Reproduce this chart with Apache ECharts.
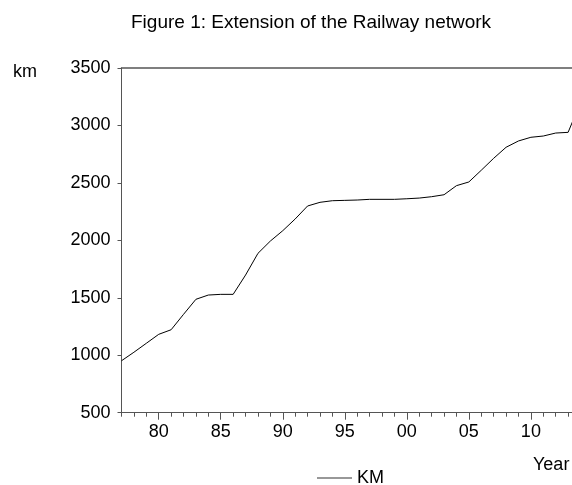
<!DOCTYPE html>
<html><head><meta charset="utf-8">
<script src="https://cdn.jsdelivr.net/npm/echarts@6/dist/echarts.min.js"></script>
<style>html,body{margin:0;padding:0;background:#fff;overflow:hidden}#c{width:581px;height:485px}</style>
</head><body><div id="c"></div>
<script>
const years = [1977,1978,1979,1980,1981,1982,1983,1984,1985,1986,1987,1988,1989,1990,1991,1992,1993,1994,1995,1996,1997,1998,1999,2000,2001,2002,2003,2004,2005,2006,2007,2008,2009,2010,2011,2012,2013,2014];
const km = [952,1026,1104,1182,1222,1356,1487,1524,1530,1530,1698,1887,1994,2084,2186,2299,2331,2345,2348,2351,2357,2357,2357,2362,2368,2380,2397,2476,2508,2610,2714,2810,2865,2897,2908,2934,2940,3200];
const yTicks = [500,1000,1500,2000,2500,3000,3500];
const titleText = 'Figure 1: Extension of the Railway network';
const seriesName = 'KM';

const FONT = 'Liberation Sans, Arial, sans-serif';
const AX = '#555';
const chart = echarts.init(document.getElementById('c'), null, {renderer:'canvas'});
const isMajor = (i, v) => Number(v) % 5 === 0;
chart.setOption({
  animation: false,
  backgroundColor: '#fff',
  title: {text: titleText, left: 131, top: 13, padding: 0,
    textStyle: {fontFamily: FONT, fontSize: 19, fontWeight: 'normal', color: '#000'}},
  legend: {data: [seriesName], left: 317, top: 469, padding: 0, icon: 'rect', itemWidth: 35, itemHeight: 1.2,
    itemStyle: {color: '#333'},
    textStyle: {fontFamily: FONT, fontSize: 18, color: '#000'}},
  grid: {left: 121.5, right: 0.5, top: 68, bottom: 72.3, containLabel: false},
  xAxis: [
    {type: 'category', data: years.map(String), boundaryGap: false, position: 'bottom',
      axisLine: {lineStyle: {color: AX, width: 1}},
      axisTick: {show: true, interval: 0, length: 4, lineStyle: {color: AX}},
      axisLabel: {show: false}, splitLine: {show: false}},
    {type: 'category', data: years.map(String), boundaryGap: false, position: 'bottom',
      axisLine: {show: false},
      axisTick: {show: true, interval: isMajor, length: 7, lineStyle: {color: AX}},
      axisLabel: {show: true, interval: isMajor, margin: 10,
        formatter: v => String(Number(v) % 100).padStart(2, '0'),
        fontFamily: FONT, fontSize: 18, color: '#000'},
      splitLine: {show: false}},
    {type: 'category', data: years.map(String), boundaryGap: false, position: 'top',
      axisLine: {show: true, lineStyle: {color: AX, width: 1.5}},
      axisTick: {show: false}, axisLabel: {show: false}, splitLine: {show: false}}
  ],
  yAxis: {type: 'value', min: yTicks[0], max: yTicks[yTicks.length-1], interval: 500,
    axisLine: {show: true, lineStyle: {color: AX, width: 1}},
    axisTick: {show: true, length: 4, lineStyle: {color: AX}},
    axisLabel: {margin: 11, fontFamily: FONT, fontSize: 18, color: '#000', formatter: v => String(v)},
    splitLine: {show: false}},
  graphic: [
    {type: 'text', left: 13, top: 63, style: {text: 'km', font: '18px ' + FONT, fill: '#000'}},
    {type: 'text', left: 533, top: 456, style: {text: 'Year', font: '18px ' + FONT, fill: '#000'}}
  ],
  series: [{name: seriesName, type: 'line', xAxisIndex: 0, data: km, symbol: 'none', showSymbol: false,
    lineStyle: {color: '#000', width: 1}, itemStyle: {color: '#000'}, clip: true}]
});
</script></body></html>
